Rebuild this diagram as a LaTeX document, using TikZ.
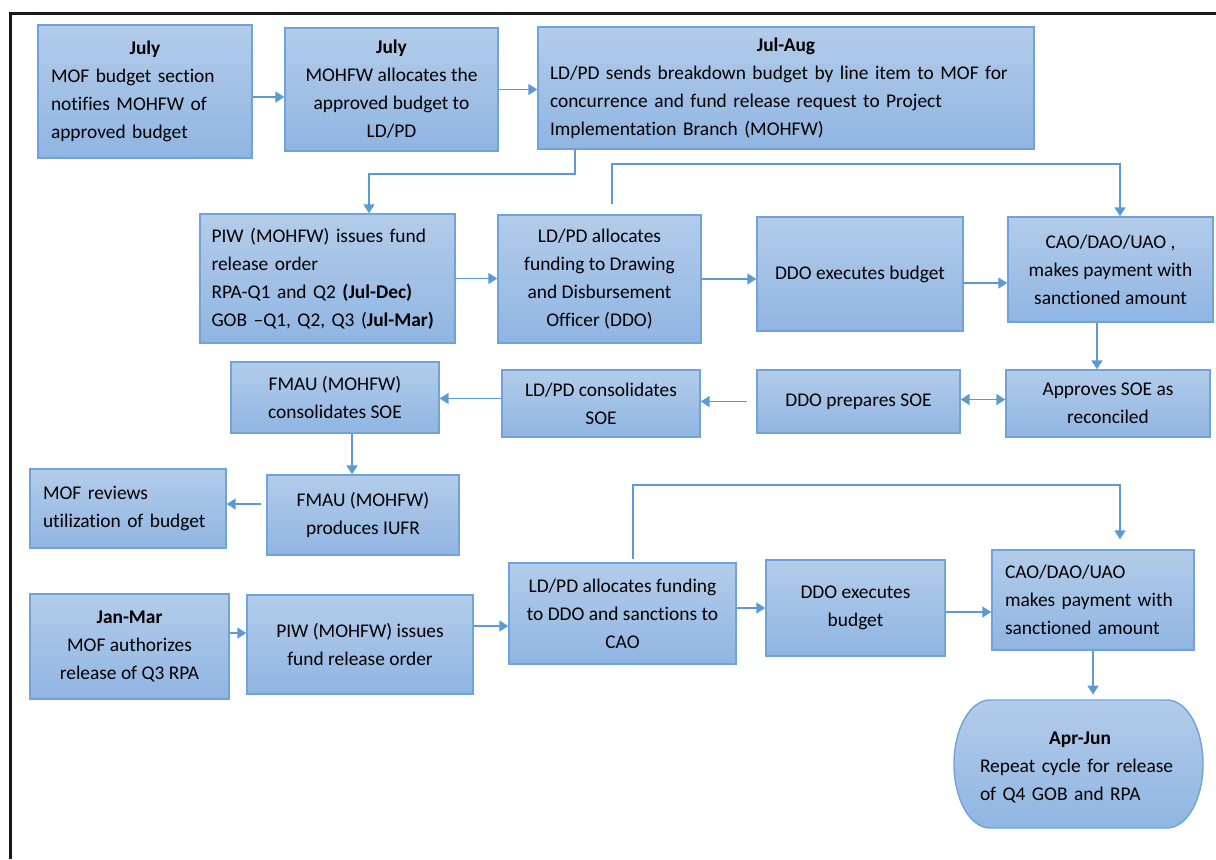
\documentclass[tikz,border=0pt]{standalone}
\usepackage{fontspec}
\setmainfont{Carlito}[Ligatures=NoCommon]
\usetikzlibrary{arrows.meta}
\hyphenpenalty=10000

\definecolor{stagetop}{HTML}{B3CCEA}
\definecolor{stagebot}{HTML}{90B5E2}
\definecolor{stageline}{HTML}{6FA3DA}
\definecolor{flowline}{HTML}{5B9BD5}

\begin{document}
\begin{tikzpicture}[x=0.5pt,y=-0.5pt,
    stagetext/.style={inner sep=0pt,font=\fontsize{9.7}{14}\selectfont},
    stage/.style={stagetext,draw=stageline,top color=stagetop,bottom color=stagebot,line width=0.7pt},
    flow/.style={draw=flowline,line width=0.9pt,-{Triangle[length=4.5pt,width=5.5pt]}}]
        \useasboundingbox (0,0) rectangle (1216,859);
        \draw[line width=1.5pt,black!90] (10,859) -- (10,13) -- (1216,13);

        \node[stage,minimum width=107pt,minimum height=66.5pt,text width=94pt,align=left] (mofjuly) at (145,91.5)
           {\makebox[\hsize]{\textbf{July}}\\MOF budget section\\notifies MOHFW of\\approved budget};
        \node[stage,minimum width=106.5pt,minimum height=61.5pt,align=center] (alloc) at (391.5,89.5)
           {\textbf{July}\\MOHFW allocates the\\approved budget to\\LD/PD};
        \node[stage,minimum width=248pt,minimum height=61pt,text width=236pt,align=left] (breakdown) at (786,88)
           {\makebox[\hsize]{\textbf{Jul-Aug}}\\LD/PD sends breakdown budget by line item to MOF for\\concurrence and fund release request to Project\\Implementation Branch (MOHFW)};

        \node[stage,minimum width=127.5pt,minimum height=64.5pt,text width=116pt,align=left] (piw) at (327.5,278.5)
           {PIW (MOHFW) issues fund\\release order\\RPA-Q1 and Q2 \textbf{(Jul-Dec)}\\GOB –Q1, Q2, Q3 (\textbf{Jul-Mar)}};
        \node[stage,minimum width=101.5pt,minimum height=64pt,align=center] (lddo) at (599.5,279)
           {LD/PD allocates\\funding to Drawing\\and Disbursement\\Officer (DDO)};
        \node[stage,minimum width=103pt,minimum height=57pt,align=center] (ddoexec) at (860,274)
           {DDO executes budget};
        \node[stage,minimum width=102.5pt,minimum height=52.5pt,align=center] (cao) at (1110.5,269.5)
           {CAO/DAO/UAO ,\\makes payment with\\sanctioned amount};

        \node[stage,minimum width=104pt,minimum height=35.5pt,align=center] (fmaucons) at (335,397.5)
           {FMAU (MOHFW)\\consolidates SOE};
        \node[stage,minimum width=99pt,minimum height=33.5pt,align=center] (ldcons) at (601,403.5)
           {LD/PD consolidates\\SOE};
        \node[stage,minimum width=101.5pt,minimum height=31.5pt,align=center] (ddoprep) at (858.5,401.5)
           {DDO prepares SOE};
        \node[stage,minimum width=102pt,minimum height=33.5pt,align=center] (approve) at (1108,403.5)
           {Approves SOE as\\reconciled};

        \node[stage,minimum width=98pt,minimum height=39.5pt,text width=85pt,align=left] (review) at (128,508.5)
           {MOF reviews\\utilization of budget};
        \node[stage,minimum width=96pt,minimum height=40pt,align=center] (iufr) at (363,515)
           {FMAU (MOHFW)\\produces IUFR};

        \node[stage,minimum width=99.5pt,minimum height=52.5pt,align=center] (janmar) at (129.5,646.5)
           {\textbf{Jan-Mar}\\MOF authorizes\\release of Q3 RPA};
        \node[stage,minimum width=113pt,minimum height=49.5pt,align=center] (piwq) at (360,644.5)
           {PIW (MOHFW) issues\\fund release order};
        \node[stage,minimum width=113.5pt,minimum height=50.5pt,align=center] (ldcao) at (622.5,613.5)
           {LD/PD allocates funding\\to DDO and sanctions to\\CAO};
        \node[stage,minimum width=89.5pt,minimum height=48pt,align=center] (ddoexecq) at (855.5,608)
           {DDO executes\\budget};
        \node[stage,minimum width=101pt,minimum height=50pt,text width=88pt,align=left] (caoq) at (1093,600)
           {CAO/DAO/UAO\\makes payment with\\sanctioned amount};

        \path[stage] (990,700) -- (1167,700) arc[start angle=90,end angle=-90,x radius=18pt,y radius=32pt]
           -- (990,828) arc[start angle=270,end angle=90,x radius=18pt,y radius=32pt] -- cycle;
        \node[stagetext,minimum width=124pt,minimum height=64pt,text width=100pt,align=left] (repeat) at (1080,767)
           {\makebox[\hsize]{\textbf{Apr-Jun}}\\Repeat cycle for release\\of Q4 GOB and RPA};

        \draw[flow] ([yshift=-2.75pt]mofjuly.east) -- ([yshift=-2.75pt]mofjuly.east -| alloc.west);
        \draw[flow] (alloc.east) -- (alloc.east -| breakdown.west);
        \draw[flow] ([xshift=19pt]breakdown.south west) -- ++(0,-12pt) -| ([xshift=20.75pt]piw.north);
        \draw[flow] (piw.east) -- (piw.east -| lddo.west);
        \draw[flow] (lddo.east) -- (lddo.east -| ddoexec.west);
        \draw[flow] ([yshift=-4.5pt]ddoexec.east) -- ([yshift=-4.5pt]ddoexec.east -| cao.west);
        \draw[flow] ([xshift=6.25pt,yshift=5pt]lddo.north) -- ++(0,20pt) -| ([xshift=4.75pt]cao.north);
        \draw[flow] ([xshift=-6.75pt]cao.south) -- ([xshift=-6.75pt]cao.south |- approve.north);
        \draw[flow,{Triangle[length=4.5pt,width=5.5pt]}-{Triangle[length=4.5pt,width=5.5pt]}] ([yshift=2pt]approve.west) -- ([yshift=2pt]approve.west -| ddoprep.east);
        \draw[flow] ([xshift=-4.5pt]ddoprep.west) -- (ddoprep.west -| ldcons.east);
        \draw[flow] ([yshift=2.5pt]ldcons.west) -- ([yshift=2.5pt]ldcons.west -| fmaucons.east);
        \draw[flow] ([xshift=8.5pt]fmaucons.south) -- ([xshift=8.5pt]fmaucons.south |- iufr.north);
        \draw[flow] ([xshift=-2.5pt,yshift=5.5pt]iufr.west) -- ([yshift=5.5pt]iufr.west -| review.east);
        \draw[flow] ([yshift=6.75pt]janmar.east) -- ([yshift=6.75pt]janmar.east -| piwq.west);
        \draw[flow] ([yshift=9.25pt]piwq.east) -- ([yshift=9.25pt]piwq.east -| ldcao.west);
        \draw[flow] (ddoexecq.west -| ldcao.east) -- (ddoexecq.west);
        \draw[flow] ([yshift=-2pt]ddoexecq.east) -- ([yshift=-2pt]ddoexecq.east -| caoq.west);
        \draw[flow] ([xshift=5.25pt,yshift=1.5pt]ldcao.north) -- ++(0,37pt) -| ([xshift=13.5pt,yshift=5pt]caoq.north);
        \draw[flow] (caoq.south) -- ([yshift=4pt]caoq.south |- repeat.north);
      \end{tikzpicture}
\end{document}
